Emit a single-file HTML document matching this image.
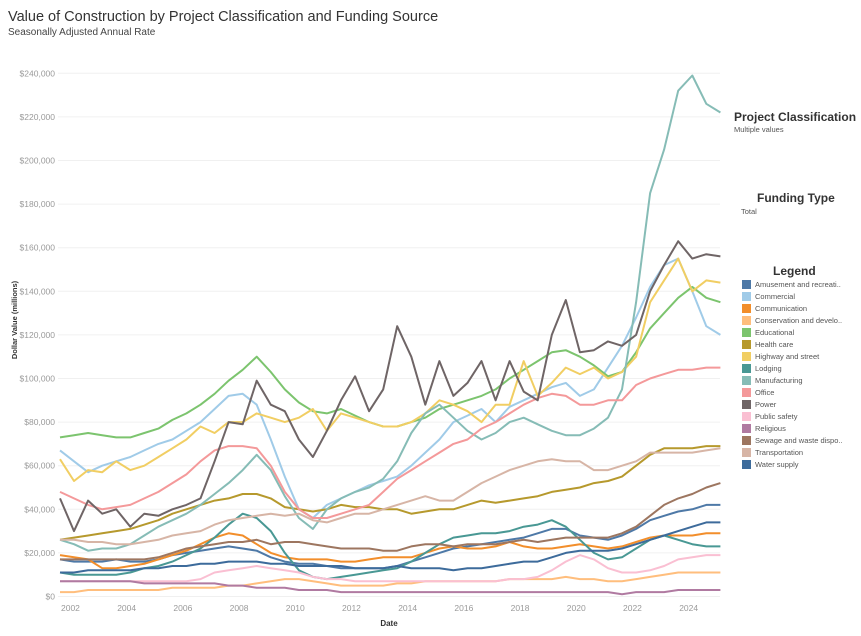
<!DOCTYPE html>
<html><head><meta charset="utf-8">
<style>
body{margin:0;background:#fff;font-family:"Liberation Sans",sans-serif;}
#wrap{position:relative;width:861px;height:636px;overflow:hidden;}
.t{position:absolute;white-space:nowrap;}
</style></head>
<body>
<div id="wrap">
<div class="t" style="left:8px;top:9px;font-size:14.5px;color:#333;">Value of Construction by Project Classification and Funding Source</div>
<div class="t" style="left:8px;top:27px;font-size:10px;color:#444;">Seasonally Adjusted Annual Rate</div>
<div class="t" style="left:734px;top:110px;font-size:12px;font-weight:bold;color:#333;">Project Classification</div>
<div class="t" style="left:734px;top:125px;font-size:7.5px;color:#555;">Multiple values</div>
<div class="t" style="left:757px;top:191px;font-size:12px;font-weight:bold;color:#333;">Funding Type</div>
<div class="t" style="left:741px;top:207px;font-size:7.5px;color:#555;">Total</div>
<div class="t" style="left:773px;top:264px;font-size:12px;font-weight:bold;color:#333;">Legend</div>
<div id="legend"></div>
<svg id="chart" width="861" height="636" style="position:absolute;left:0;top:0;"></svg>
</div>
<script>
const years = [2002,2004,2006,2008,2010,2012,2014,2016,2018,2020,2022,2024];
const yTicks = [0,20,40,60,80,100,120,140,160,180,200,220,240];
const startYear = 2002, stepYear = 0.5;
const seriesNames = ["Amusement and recreati..","Commercial","Communication","Conservation and develo..","Educational","Health care","Highway and street","Lodging","Manufacturing","Office","Power","Public safety","Religious","Sewage and waste dispo..","Transportation","Water supply"];
const seriesKeys = ["amusement","commercial","communication","conservation","educational","health-care","highway","lodging","manufacturing","office","power","public-safety","religious","sewage","transportation","water-supply"];
const seriesColors = ["#4e79a7","#a0cbe8","#f28e2b","#ffbe7d","#7cc46e","#b6992d","#f1ce63","#499894","#86bcb6","#f4999a","#6f6566","#fabfd2","#b07aa1","#9d7660","#d7b5a6","#3d6b9b"];
const amusement = [17,16,16,16,17,16,16,17,19,20,21,22,23,22,21,18,16,15,15,14,13,13,13,13,14,16,18,20,22,23,24,25,26,27,29,31,31,28,27,26,28,31,35,37,39,40,42,42];
const commercial = [67,62,57,60,62,64,67,70,72,76,80,86,92,93,88,72,55,40,36,42,45,48,51,53,55,60,66,72,80,83,86,80,87,90,93,96,98,92,95,105,115,128,142,152,155,140,124,120];
const communication = [19,18,17,13,13,14,15,17,19,21,24,27,29,28,24,20,18,17,17,17,16,16,17,18,18,18,20,22,23,22,22,23,25,23,22,22,23,24,23,22,23,25,27,28,28,28,29,29];
const conservation = [2,2,3,3,3,3,3,3,4,4,4,4,5,5,6,7,8,8,7,6,5,5,5,5,6,6,7,7,7,7,7,7,8,8,8,8,9,8,8,7,7,8,9,10,11,11,11,11];
const educational = [73,74,75,74,73,73,75,77,81,84,88,93,99,104,110,103,95,89,85,84,86,83,80,78,78,80,82,86,88,90,92,95,100,104,108,112,113,110,106,101,103,112,123,130,137,142,137,135];
const healthCare = [26,27,28,29,30,31,33,35,38,40,42,44,45,47,47,45,41,40,39,40,42,41,41,40,40,38,39,40,40,42,44,43,44,45,46,48,49,50,52,53,55,60,65,68,68,68,69,69];
const highway = [63,53,58,57,62,58,60,64,68,72,78,75,80,80,84,82,80,82,86,76,84,82,80,78,78,80,84,90,88,85,80,88,88,108,92,98,105,102,105,100,103,110,135,145,155,140,145,144];
const lodging = [11,10,10,10,10,11,13,14,16,19,22,27,33,38,36,30,20,12,9,8,9,10,11,12,13,16,20,24,27,28,29,29,30,32,33,35,32,26,20,17,18,22,26,28,26,24,23,23];
const manufacturing = [26,24,21,22,22,24,28,32,35,38,42,47,52,58,65,58,46,36,31,40,45,48,50,54,62,75,84,88,82,76,72,75,80,82,79,76,74,74,77,82,95,135,185,205,232,239,226,222];
const office = [48,45,42,40,41,42,45,48,52,56,62,67,69,69,68,60,48,40,36,36,38,40,42,48,54,58,62,66,70,72,77,80,84,88,91,93,92,88,88,90,90,97,100,102,104,104,105,105];
const power = [45,30,44,38,40,32,38,37,40,42,45,62,80,79,99,88,85,72,64,76,90,101,85,95,124,110,88,108,92,98,108,90,108,94,90,120,136,112,113,117,115,120,140,152,163,155,157,156];
const publicSafety = [7,7,7,7,7,7,7,7,7,7,8,11,12,13,14,13,12,11,9,8,8,7,7,7,7,7,7,7,7,7,7,7,8,8,9,12,16,19,17,13,11,11,12,14,17,18,19,19];
const religious = [7,7,7,7,7,7,6,6,6,6,6,6,5,5,4,4,4,3,3,3,2,2,2,2,2,2,2,2,2,2,2,2,2,2,2,2,2,2,2,2,1,2,2,2,3,3,3,3];
const sewage = [17,17,17,17,17,17,17,18,20,22,23,24,25,25,26,24,25,25,24,23,22,22,22,21,21,23,24,24,23,24,24,24,25,26,25,26,27,27,27,27,29,32,37,42,45,47,50,52];
const transportation = [26,26,25,25,24,24,25,26,28,29,30,33,35,36,37,38,37,38,35,34,36,38,38,40,42,44,46,44,44,48,52,55,58,60,62,63,62,62,58,58,60,62,66,66,66,66,67,68];
const waterSupply = [11,11,12,12,12,12,13,13,14,14,15,15,16,16,16,15,15,14,14,14,14,13,13,13,14,13,13,13,12,13,13,14,15,16,16,18,20,21,21,21,22,24,26,28,30,32,34,34];
const seriesData = [amusement,commercial,communication,conservation,educational,healthCare,highway,lodging,manufacturing,office,power,publicSafety,religious,sewage,transportation,waterSupply];

const NS="http://www.w3.org/2000/svg";
const svg=document.getElementById('chart');
const X0=60, PX_PER_YEAR=28.1, Y0=596.5, PX_PER_K=43.6/20;
function xScale(t){return X0+(t-2002)*PX_PER_YEAR;}
function yScale(v){return Y0-v*PX_PER_K;}
function mk(tag,attrs){const e=document.createElementNS(NS,tag);for(const k in attrs)e.setAttribute(k,attrs[k]);return e;}

yTicks.forEach(v=>{
  const g=mk('line',{x1:58,x2:720,y1:yScale(v),y2:yScale(v),stroke:'#f0f0f0','stroke-width':1});
  
  
  svg.appendChild(g);
  const tx=mk('text',{x:55,y:yScale(v)+3,'text-anchor':'end','font-size':8.5,fill:'#9a9a9a','font-family':'Liberation Sans, sans-serif'});
  tx.textContent='$'+(v*1000).toLocaleString('en-US');
  
  
  svg.appendChild(tx);
});
years.forEach(y=>{
  const tx=mk('text',{x:xScale(y)+1,y:611,'text-anchor':'start','font-size':8.5,fill:'#9a9a9a','font-family':'Liberation Sans, sans-serif'});
  tx.textContent=String(y);
  
  
  svg.appendChild(tx);
});
const xt=mk('text',{x:389,y:626,'text-anchor':'middle','font-size':8,'font-weight':'bold',fill:'#333','font-family':'Liberation Sans, sans-serif'});
xt.textContent='Date';


svg.appendChild(xt);
const yt=mk('text',{x:0,y:0,'text-anchor':'middle','font-size':7.5,'font-weight':'bold',fill:'#333','font-family':'Liberation Sans, sans-serif',transform:'translate(17,320) rotate(-90)'});
yt.textContent='Dollar Value (millions)';


svg.appendChild(yt);

seriesData.forEach((arr,i)=>{
  const d=arr.map((v,j)=>(j?'L':'M')+xScale(startYear+j*stepYear).toFixed(1)+','+yScale(v).toFixed(1)).join(' ');
  const p=mk('path',{d:d,fill:'none',stroke:seriesColors[i],'stroke-width':2,'stroke-linejoin':'round'});
  
  
  svg.appendChild(p);
});

const lg=document.getElementById('legend');
seriesNames.forEach((n,i)=>{
  const row=document.createElement('div');
  row.className='t';
  row.style.cssText='left:742px;top:'+(280+i*12)+'px;font-size:7.5px;color:#555;line-height:9px;';
  row.innerHTML='<span style="display:inline-block;width:9px;height:9px;background:'+seriesColors[i]+';vertical-align:top;margin-right:4px;"></span>'+n;
  
  
  lg.appendChild(row);
});
</script>
</body></html>
